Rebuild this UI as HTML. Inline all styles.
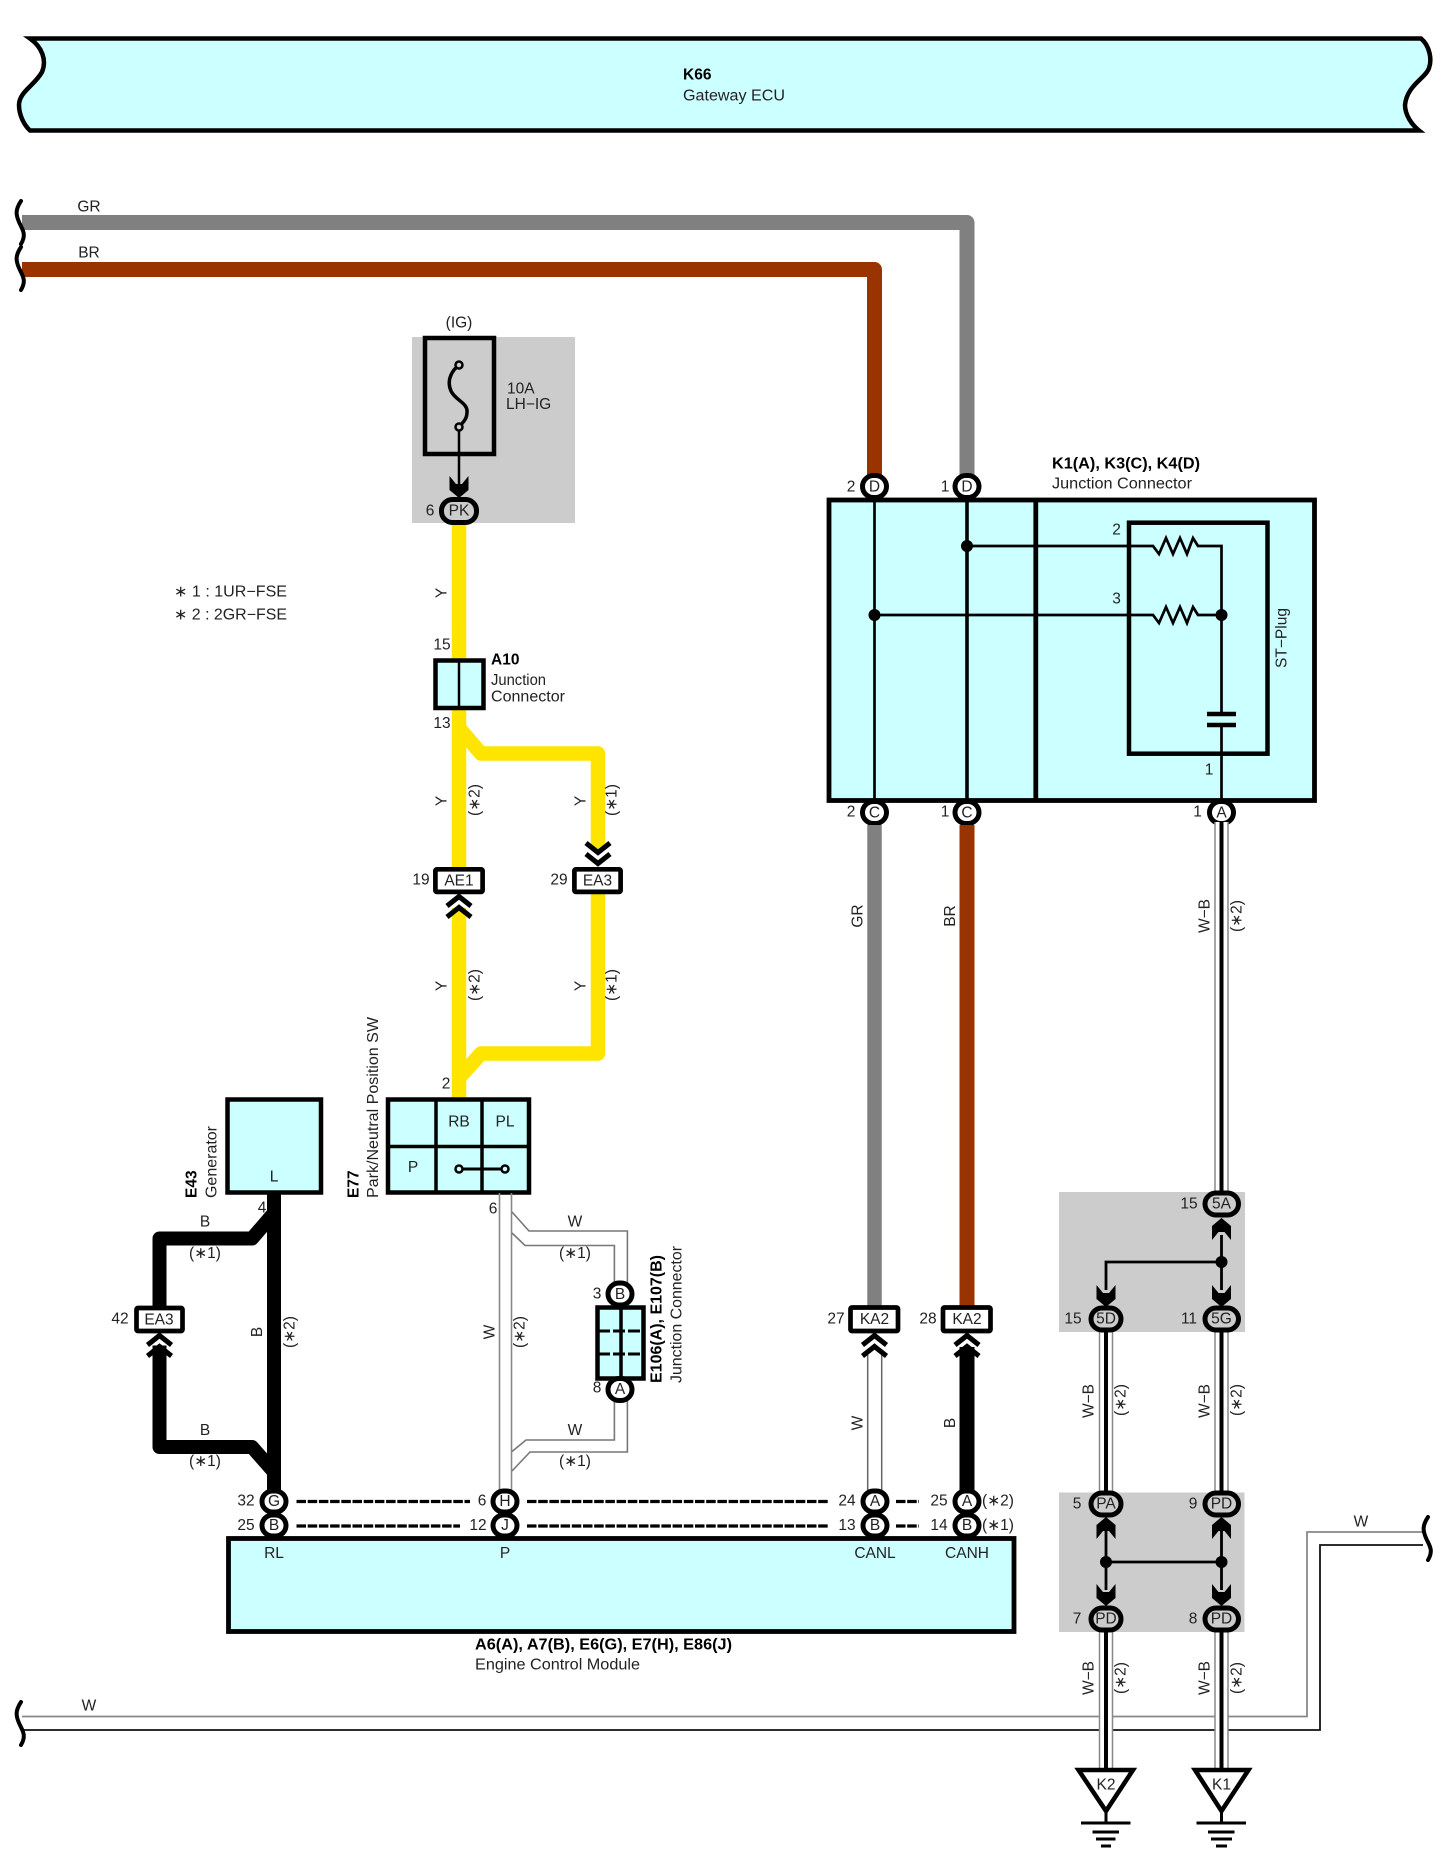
<!DOCTYPE html>
<html><head><meta charset="utf-8"><style>
html,body{margin:0;padding:0;background:#fff}
svg{display:block}
text{font-family:"Liberation Sans",sans-serif;font-size:15.5px;fill:#222;text-anchor:middle;dominant-baseline:central}
.s{text-anchor:start}
.b{font-weight:bold;fill:#000}
</style></head><body>
<svg width="1449" height="1860" viewBox="0 0 1449 1860" xmlns="http://www.w3.org/2000/svg">
<defs>
<path id="sq" d="M21,0 C15,9 16,14 19,21 S27,33 21,43" fill="none" stroke="#000" stroke-width="4" stroke-linecap="round"/>
<path id="up" d="M-12,11 L0,1.5 L12,11 M-12,22 L0,12.5 L12,22" fill="none" stroke="#000" stroke-width="5"/>
<path id="dn" d="M-12,-11 L0,-1.5 L12,-11 M-12,-22 L0,-12.5 L12,-22" fill="none" stroke="#000" stroke-width="5"/>
<path id="ar" d="M-9.5,-22 L-3,-14 L3,-14 L9.5,-22 L9.5,-8 L0,0 L-9.5,-8Z" fill="#000"/>
<path id="au" d="M-9.5,22 L-3,14 L3,14 L9.5,22 L9.5,8 L0,0 L-9.5,8Z" fill="#000"/>
</defs>

<!-- Gateway band -->
<path d="M30,38.5 L1421,38.5 C1430,46 1432,60 1429,68 C1426,78 1407,85 1405,105 C1405,115 1412,125 1419,130.5 L30,130.5 C24,125 19,115 19,105 C19,92 35,85 42,72 C47,60 42,47 30,38.5Z" fill="#ccffff" stroke="#000" stroke-width="4.5"/>
<text class="s b" x="683" y="75">K66</text>
<text class="s" x="683" y="96" textLength="102" lengthAdjust="spacingAndGlyphs">Gateway ECU</text>

<!-- grey boxes -->
<rect x="412" y="337" width="163" height="186" fill="#cccccc"/>
<rect x="1059" y="1192" width="186" height="140" fill="#cccccc"/>
<rect x="1059" y="1492.5" width="185.5" height="139.5" fill="#cccccc"/>

<!-- main GR / BR wires -->
<path d="M22,222.5 H967 V480" fill="none" stroke="#808080" stroke-width="15" stroke-linejoin="round"/>
<path d="M22,269.5 H874.5 V480" fill="none" stroke="#993300" stroke-width="15" stroke-linejoin="round"/>
<use href="#sq" x="0" y="201"/><use href="#sq" x="0" y="247"/>
<text x="89" y="207">GR</text><text x="89" y="253">BR</text>

<!-- bottom W wire -->
<path d="M22,1716.5 H1307 V1532 H1423" fill="none" stroke="#888" stroke-width="1.8"/>
<path d="M22,1730 H1320 V1545 H1423" fill="none" stroke="#111" stroke-width="1.8"/>
<use href="#sq" x="0" y="1702"/><use href="#sq" x="1407" y="1517"/>
<text x="89" y="1706">W</text><text x="1361" y="1522">W</text>

<!-- Fuse -->
<rect x="425" y="338" width="69" height="116" fill="none" stroke="#000" stroke-width="4.5"/>
<path d="M459,365 C450,372 447,382 451,391 C455,400 468,403 467,412 C467,420 462,423 459,427" fill="none" stroke="#000" stroke-width="3.5"/>
<circle cx="459" cy="365" r="3.5" fill="#ccc" stroke="#000" stroke-width="2.5"/>
<circle cx="459" cy="427" r="3.5" fill="#ccc" stroke="#000" stroke-width="2.5"/>
<path d="M459,430 V490" stroke="#000" stroke-width="2.5"/>
<use href="#ar" x="459" y="498"/>
<text x="459" y="323">(IG)</text>
<text class="s" x="507" y="389">10A</text>
<text class="s" x="506" y="404.5">LH−IG</text>

<!-- Legend -->
<text class="s" x="174" y="592" textLength="113" lengthAdjust="spacingAndGlyphs">∗ 1 : 1UR−FSE</text>
<text class="s" x="174" y="615" textLength="113" lengthAdjust="spacingAndGlyphs">∗ 2 : 2GR−FSE</text>

<!-- Yellow wires -->
<g fill="none" stroke="#ffe400" stroke-width="14.5" stroke-linejoin="round">
<path d="M459,523 V868"/>
<path d="M459,908 V1100"/>
<path d="M459,728 L481,753.5 H598 V850"/>
<path d="M598,890 V1053.5 H481 L459,1078"/>
</g>
<text x="442" y="593" transform="rotate(-90 442 593)">Y</text>

<!-- A10 -->
<rect x="435.5" y="660.5" width="48" height="47.5" fill="#ccffff" stroke="#000" stroke-width="4.5"/>
<path d="M459,660 V708" stroke="#000" stroke-width="2.5"/>
<text x="442" y="645">15</text><text x="442" y="723.5">13</text>
<text class="s b" x="491" y="660">A10</text>
<text class="s" x="491" y="680.5" textLength="55" lengthAdjust="spacingAndGlyphs">Junction</text>
<text class="s" x="491" y="697" textLength="74" lengthAdjust="spacingAndGlyphs">Connector</text>

<text x="442" y="801" transform="rotate(-90 442 801)">Y</text>
<text x="475" y="800" transform="rotate(-90 475 800)">(∗2)</text>
<text x="581" y="801" transform="rotate(-90 581 801)">Y</text>
<text x="612" y="800" transform="rotate(-90 612 800)">(∗1)</text>
<text x="442" y="986" transform="rotate(-90 442 986)">Y</text>
<text x="475" y="985" transform="rotate(-90 475 985)">(∗2)</text>
<text x="581" y="986" transform="rotate(-90 581 986)">Y</text>
<text x="612" y="985" transform="rotate(-90 612 985)">(∗1)</text>

<!-- AE1 / EA3 -->
<rect x="435.4" y="869.3" width="47.2" height="22.6" rx="1.5" fill="#fff" stroke="#000" stroke-width="4.7"/>
<rect x="574.4" y="869.3" width="46.2" height="22.6" rx="1.5" fill="#fff" stroke="#000" stroke-width="4.7"/>
<text x="459" y="881">AE1</text><text x="597.5" y="881">EA3</text>
<text x="421" y="880">19</text><text x="559" y="880">29</text>
<use href="#up" x="459" y="895"/>
<use href="#dn" x="598" y="865"/>

<!-- E77 -->
<rect x="388" y="1099.5" width="141" height="93" fill="#ccffff" stroke="#000" stroke-width="4.5"/>
<path d="M436,1100 V1192 M482,1100 V1192 M388,1146.5 H529" stroke="#000" stroke-width="3.5" fill="none"/>
<text x="459" y="1122">RB</text><text x="505" y="1122">PL</text><text x="413" y="1167.5">P</text>
<path d="M459,1169 H505" stroke="#000" stroke-width="3"/>
<circle cx="459" cy="1169" r="3.5" fill="#ccffff" stroke="#000" stroke-width="2.5"/>
<circle cx="505" cy="1169" r="3.5" fill="#ccffff" stroke="#000" stroke-width="2.5"/>
<text x="446" y="1084">2</text>
<text class="s b" x="354" y="1198" transform="rotate(-90 354 1198)">E77</text>
<text class="s" x="373.5" y="1198" transform="rotate(-90 373.5 1198)" textLength="181" lengthAdjust="spacingAndGlyphs">Park/Neutral Position SW</text>

<!-- E43 -->
<rect x="227.5" y="1099.5" width="93.5" height="93" fill="#ccffff" stroke="#000" stroke-width="4.5"/>
<text x="274" y="1177">L</text>
<text class="s b" x="192" y="1198" transform="rotate(-90 192 1198)">E43</text>
<text class="s" x="212" y="1198" transform="rotate(-90 212 1198)" textLength="72" lengthAdjust="spacingAndGlyphs">Generator</text>

<!-- Black wires -->
<g fill="none" stroke="#000" stroke-width="14" stroke-linejoin="round">
<path d="M274,1193 V1490"/>
<path d="M274,1213 L252,1238.5 H159.5 V1308"/>
<path d="M159.5,1345 V1447 H252 L274,1472"/>
</g>
<text x="262" y="1208">4</text>
<text x="205" y="1222">B</text><text x="205" y="1253.5">(∗1)</text>
<text x="205" y="1430.5">B</text><text x="205" y="1461.5">(∗1)</text>
<text x="257.5" y="1332" transform="rotate(-90 257.5 1332)">B</text>
<text x="290" y="1332" transform="rotate(-90 290 1332)">(∗2)</text>

<rect x="136.5" y="1308" width="46" height="23" rx="1.5" fill="#fff" stroke="#000" stroke-width="4.7"/>
<text x="159" y="1320">EA3</text><text x="120" y="1319">42</text>
<rect x="146" y="1333.5" width="27" height="12" fill="#fff"/>
<use href="#up" x="159.5" y="1334"/>

<!-- White P wire and branches -->
<path d="M499.5,1193 V1490 M511.5,1193 V1490" stroke="#888" stroke-width="1.6" fill="none"/>
<g fill="none" stroke="#777" stroke-width="1.6">
<path d="M512,1212 L529,1231 H627.4 V1283"/>
<path d="M512,1233 L525,1245.5 H614.4 V1283"/>
<path d="M614.4,1400 V1440 H526 L512,1451.5"/>
<path d="M627.4,1400 V1452 H530 L512,1471"/>
</g>
<text x="493" y="1209">6</text>
<text x="575" y="1222">W</text><text x="575" y="1253.5">(∗1)</text>
<text x="575" y="1430.5">W</text><text x="575" y="1461.5">(∗1)</text>
<text x="490" y="1332" transform="rotate(-90 490 1332)">W</text>
<text x="520" y="1332" transform="rotate(-90 520 1332)">(∗2)</text>

<!-- E106/E107 -->
<rect x="597.5" y="1307.5" width="46" height="71" fill="#ccffff" stroke="#000" stroke-width="4.5"/>
<path d="M621,1308 V1378" stroke="#000" stroke-width="3.5"/>
<path d="M598,1331 H643 M598,1354 H643" stroke="#000" stroke-width="3" stroke-dasharray="12 3"/>
<rect x="608" y="1283" width="24" height="22" rx="11" fill="#fff" stroke="#000" stroke-width="5"/>
<text x="620" y="1294.5">B</text>
<rect x="608" y="1378.5" width="24" height="22" rx="11" fill="#fff" stroke="#000" stroke-width="5"/>
<text x="620" y="1389.5">A</text>
<text x="597" y="1294">3</text><text x="597" y="1388">8</text>
<text class="s b" x="657" y="1383" transform="rotate(-90 657 1383)" textLength="128" lengthAdjust="spacingAndGlyphs">E106(A), E107(B)</text>
<text class="s" x="677" y="1383" transform="rotate(-90 677 1383)" textLength="137" lengthAdjust="spacingAndGlyphs">Junction Connector</text>

<!-- Junction connector box -->
<rect x="829" y="500" width="485.5" height="300.5" fill="#ccffff" stroke="#000" stroke-width="4.8"/>
<path d="M1035.8,500 V800" stroke="#000" stroke-width="4.8"/>
<rect x="1129" y="522.7" width="138.5" height="231" fill="none" stroke="#000" stroke-width="4.5"/>
<g fill="none" stroke="#000" stroke-width="2.7">
<path d="M874.5,495 V805"/>
<path d="M967,495 V805" stroke-width="3.6"/>
<path d="M967,546 H1153 L1159,554 L1166,538 L1173,554 L1180,538 L1187,554 L1193,538 L1198,546 H1221.5 V714"/>
<path d="M874.5,615 H1153 L1159,623 L1166,607 L1173,623 L1180,607 L1187,623 L1193,607 L1198,615 H1221.5"/>
<path d="M1221.5,725 V805"/>
</g>
<circle cx="967" cy="546" r="6" fill="#000"/>
<circle cx="874.5" cy="615" r="6" fill="#000"/>
<circle cx="1221.5" cy="615" r="6" fill="#000"/>
<path d="M1207,714 H1236 M1207,725 H1236" stroke="#000" stroke-width="4.5"/>
<text x="1116.5" y="530">2</text><text x="1116.5" y="599">3</text><text x="1209" y="770">1</text>
<text x="1282" y="638" transform="rotate(-90 1282 638)" textLength="60" lengthAdjust="spacingAndGlyphs">ST−Plug</text>
<text class="s b" x="1052" y="464" textLength="148" lengthAdjust="spacingAndGlyphs">K1(A), K3(C), K4(D)</text>
<text class="s" x="1052" y="484" textLength="140" lengthAdjust="spacingAndGlyphs">Junction Connector</text>

<!-- D / C / A connectors on box -->
<g fill="#fff" stroke="#000" stroke-width="5">
<rect x="862.5" y="475.5" width="24" height="22" rx="11"/>
<rect x="955" y="475.5" width="24" height="22" rx="11"/>
<rect x="862.5" y="801.5" width="24" height="22" rx="11"/>
<rect x="955" y="801.5" width="24" height="22" rx="11"/>
<rect x="1209.5" y="801.5" width="24" height="22" rx="11"/>
</g>
<text x="874.5" y="487">D</text><text x="967" y="487">D</text>
<text x="874.5" y="813">C</text><text x="967" y="813">C</text><text x="1221.5" y="813">A</text>
<text x="851" y="487">2</text><text x="945" y="487">1</text>
<text x="851" y="812">2</text><text x="945" y="812">1</text><text x="1197.5" y="812">1</text>

<!-- lower GR / BR -->
<path d="M874.5,825 V1308" stroke="#808080" stroke-width="14.5"/>
<path d="M967,825 V1308" stroke="#993300" stroke-width="15"/>
<text x="858" y="916" transform="rotate(-90 858 916)">GR</text>
<text x="950.5" y="916" transform="rotate(-90 950.5 916)">BR</text>
<rect x="850.5" y="1307.5" width="47.5" height="23.5" rx="1.5" fill="#fff" stroke="#000" stroke-width="4.7"/>
<rect x="943" y="1307.5" width="47.5" height="23.5" rx="1.5" fill="#fff" stroke="#000" stroke-width="4.7"/>
<text x="874.5" y="1319.5">KA2</text><text x="967" y="1319.5">KA2</text>
<text x="836" y="1319">27</text><text x="928" y="1319">28</text>
<path d="M867.7,1355 V1490 M881.7,1355 V1490" stroke="#666" stroke-width="1.5"/>
<path d="M967,1347 V1490" stroke="#000" stroke-width="15"/>
<use href="#up" x="874.5" y="1334"/><use href="#up" x="967" y="1334"/>
<text x="858" y="1423" transform="rotate(-90 858 1423)">W</text>
<text x="950.5" y="1423" transform="rotate(-90 950.5 1423)">B</text>

<!-- W-B wires -->
<g fill="none">
<path d="M1221.5,822 V1195 M1106,1330 V1495 M1221.5,1330 V1495 M1106,1630 V1772 M1221.5,1630 V1772" stroke="#888" stroke-width="14.5"/>
<path d="M1221.5,822 V1195 M1106,1330 V1495 M1221.5,1330 V1495 M1106,1630 V1772 M1221.5,1630 V1772" stroke="#fff" stroke-width="11.5"/>
<path d="M1221.5,822 V1195 M1106,1330 V1495 M1221.5,1330 V1495 M1106,1630 V1772 M1221.5,1630 V1772" stroke="#000" stroke-width="4"/>
</g>
<text x="1205" y="916" transform="rotate(-90 1205 916)">W−B</text>
<text x="1237" y="916" transform="rotate(-90 1237 916)">(∗2)</text>
<text x="1089" y="1401" transform="rotate(-90 1089 1401)">W−B</text>
<text x="1121" y="1400" transform="rotate(-90 1121 1400)">(∗2)</text>
<text x="1205" y="1401" transform="rotate(-90 1205 1401)">W−B</text>
<text x="1237" y="1400" transform="rotate(-90 1237 1400)">(∗2)</text>
<text x="1089" y="1678" transform="rotate(-90 1089 1678)">W−B</text>
<text x="1121" y="1678" transform="rotate(-90 1121 1678)">(∗2)</text>
<text x="1205" y="1678" transform="rotate(-90 1205 1678)">W−B</text>
<text x="1237" y="1678" transform="rotate(-90 1237 1678)">(∗2)</text>

<!-- Grey-box inner links -->
<g fill="none" stroke="#000" stroke-width="2.8">
<path d="M1221.5,1235 V1290"/>
<path d="M1221.5,1262 H1106 V1290"/>
<path d="M1106,1530 V1590 M1221.5,1530 V1590 M1106,1562 H1221.5"/>
</g>
<circle cx="1221.5" cy="1262" r="6" fill="#000"/>
<circle cx="1106" cy="1562" r="6" fill="#000"/>
<circle cx="1221.5" cy="1562" r="6" fill="#000"/>
<use href="#au" x="1221.5" y="1218"/>
<use href="#ar" x="1106" y="1307"/><use href="#ar" x="1221.5" y="1307"/>
<use href="#au" x="1106" y="1517"/><use href="#au" x="1221.5" y="1517"/>
<use href="#ar" x="1106" y="1606"/><use href="#ar" x="1221.5" y="1606"/>

<!-- Grey-box connectors -->
<g fill="#ccc" stroke="#000" stroke-width="5">
<rect x="441.5" y="499.5" width="35" height="23" rx="11"/>
<rect x="1205" y="1193" width="33.5" height="22" rx="11"/>
<rect x="1091" y="1308" width="30" height="22" rx="11"/>
<rect x="1205" y="1308" width="33.5" height="22" rx="11"/>
<rect x="1091" y="1493" width="30" height="22" rx="11"/>
<rect x="1205" y="1493" width="33.5" height="22" rx="11"/>
<rect x="1091" y="1608" width="30" height="22" rx="11"/>
<rect x="1205" y="1608" width="33.5" height="22" rx="11"/>
</g>
<text x="459" y="511">PK</text><text x="430" y="511">6</text>
<text x="1221.5" y="1204">5A</text><text x="1189" y="1204">15</text>
<text x="1106" y="1319">5D</text><text x="1073" y="1319">15</text>
<text x="1221.5" y="1319">5G</text><text x="1189" y="1319">11</text>
<text x="1106" y="1504">PA</text><text x="1077" y="1504">5</text>
<text x="1221.5" y="1504">PD</text><text x="1193" y="1504">9</text>
<text x="1106" y="1619">PD</text><text x="1077" y="1619">7</text>
<text x="1221.5" y="1619">PD</text><text x="1193" y="1619">8</text>

<!-- Grounds -->
<path d="M1078.5,1770 H1133 L1106,1811Z" fill="#fff" stroke="#000" stroke-width="4.5"/>
<path d="M1195,1770 H1248.5 L1221.5,1811Z" fill="#fff" stroke="#000" stroke-width="4.5"/>
<text x="1106" y="1785">K2</text><text x="1221.5" y="1785">K1</text>
<g stroke="#000" stroke-width="3" fill="none">
<path d="M1106,1811 V1823 M1081,1823 H1130.5 M1092.5,1832 H1119 M1096,1839 H1115.5 M1101,1846 H1111" />
<path d="M1221.5,1811 V1823 M1196.5,1823 H1246 M1208,1832 H1234.5 M1211,1839 H1232 M1216,1846 H1227" />
</g>

<!-- ECM -->
<rect x="228.5" y="1538.5" width="785.5" height="93" fill="#ccffff" stroke="#000" stroke-width="4.8"/>
<text x="274" y="1553.5">RL</text><text x="505" y="1553.5">P</text>
<text x="875" y="1553.5">CANL</text><text x="967" y="1553.5">CANH</text>
<text class="s b" x="475" y="1645" textLength="257" lengthAdjust="spacingAndGlyphs">A6(A), A7(B), E6(G), E7(H), E86(J)</text>
<text class="s" x="475" y="1665" textLength="165" lengthAdjust="spacingAndGlyphs">Engine Control Module</text>

<!-- Dashes -->
<g stroke="#000" stroke-width="3.2" stroke-dasharray="9.5 1.7" fill="none">
<path d="M296.5,1501.5 H470"/>
<path d="M296.5,1526 H460"/>
<path d="M527,1501.5 H829"/>
<path d="M527,1526 H829"/>
<path d="M896,1501.5 H919"/>
<path d="M896,1526 H919"/>
</g>

<!-- ECM-row connectors -->
<g fill="#fff" stroke="#000" stroke-width="5">
<rect x="262" y="1491" width="24" height="21" rx="10.5"/>
<rect x="262" y="1515" width="24" height="21" rx="10.5"/>
<rect x="493" y="1491" width="24" height="21" rx="10.5"/>
<rect x="493" y="1515" width="24" height="21" rx="10.5"/>
<rect x="863" y="1491" width="24" height="21" rx="10.5"/>
<rect x="863" y="1515" width="24" height="21" rx="10.5"/>
<rect x="955" y="1491" width="24" height="21" rx="10.5"/>
<rect x="955" y="1515" width="24" height="21" rx="10.5"/>
</g>
<text x="274" y="1501.5">G</text><text x="274" y="1525.5">B</text>
<text x="505" y="1501.5">H</text><text x="505" y="1525.5">J</text>
<text x="875" y="1501.5">A</text><text x="875" y="1525.5">B</text>
<text x="967" y="1501.5">A</text><text x="967" y="1525.5">B</text>
<text x="246" y="1501">32</text><text x="246" y="1525.5">25</text>
<text x="482" y="1501">6</text><text x="478" y="1525.5">12</text>
<text x="847" y="1501">24</text><text x="847" y="1525.5">13</text>
<text x="939" y="1501">25</text><text x="939" y="1525.5">14</text>
<text x="998" y="1501">(∗2)</text><text x="998" y="1525.5">(∗1)</text>
</svg>
</body></html>
